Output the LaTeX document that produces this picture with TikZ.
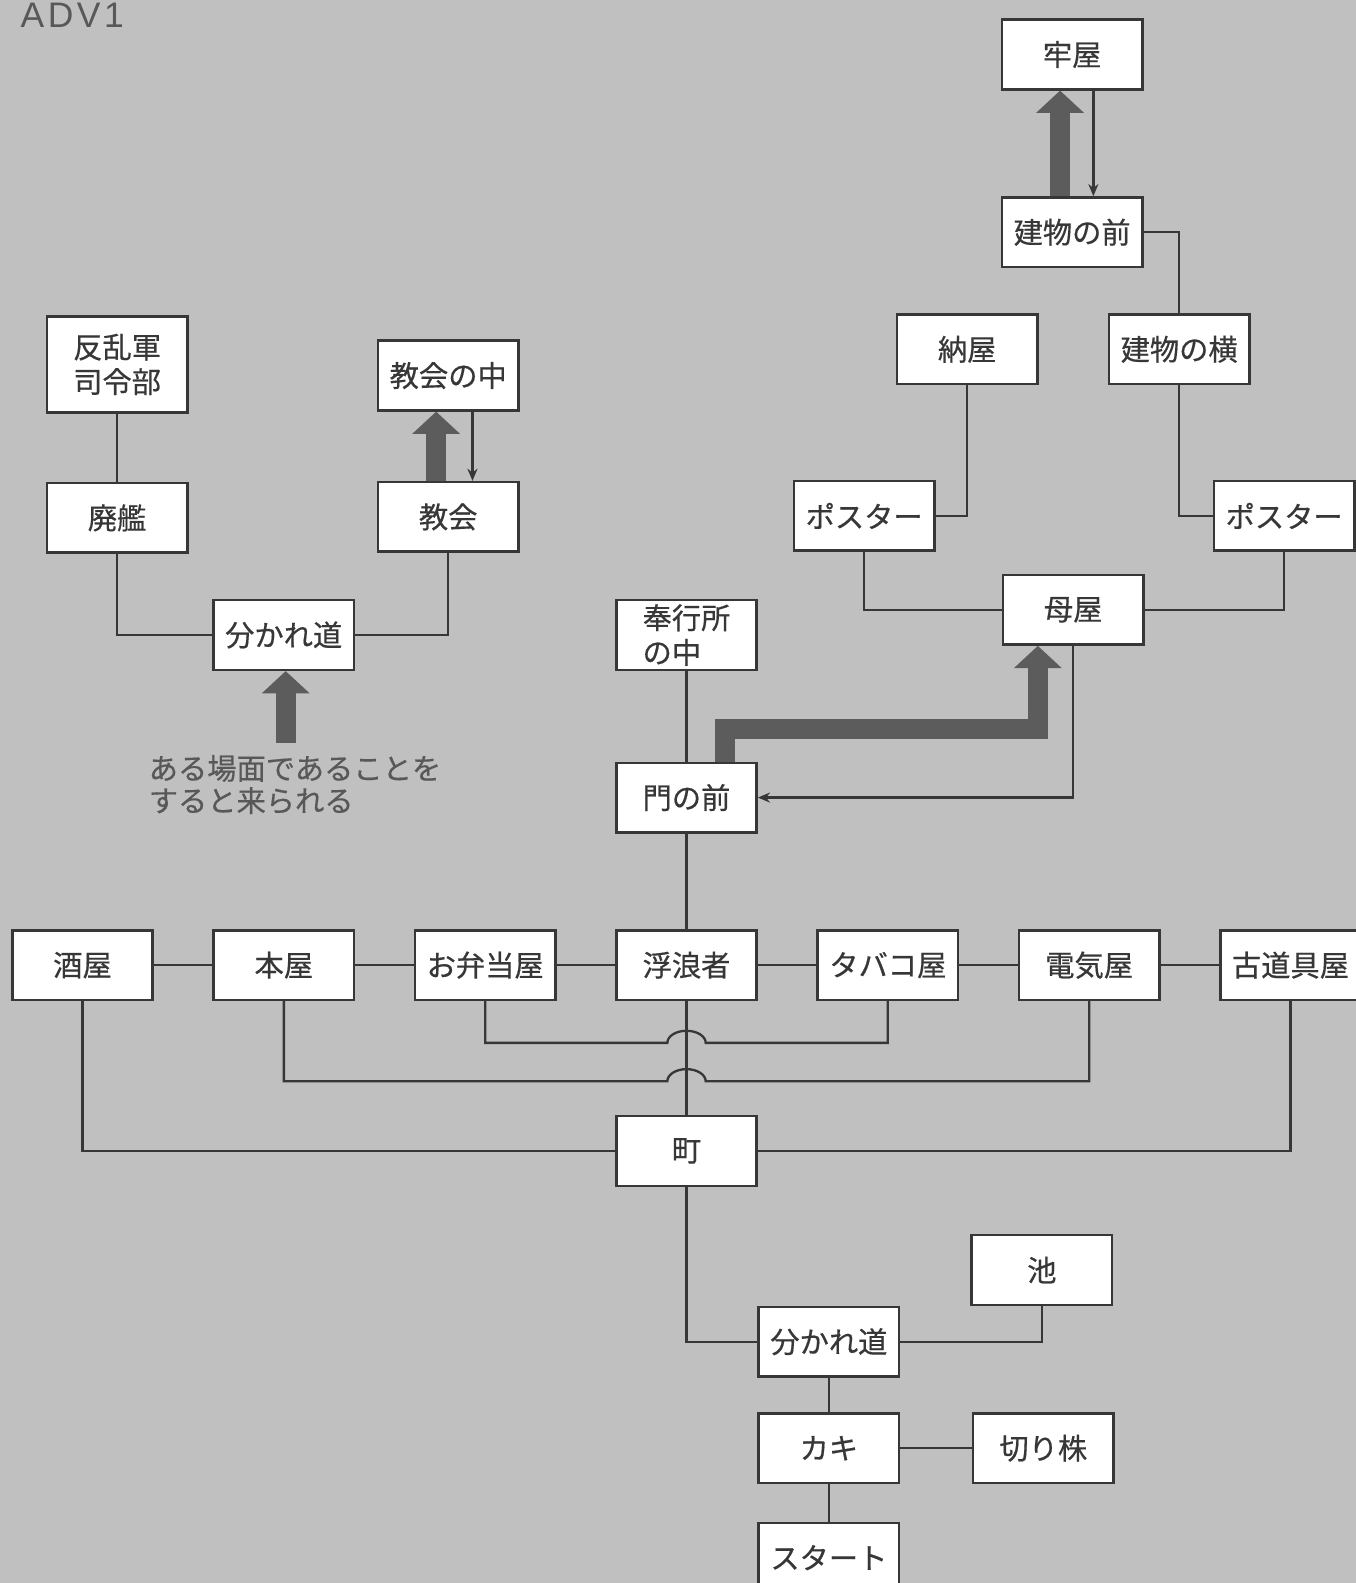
\documentclass[tikz,border=0pt]{standalone}
\usepackage{fontspec}
\usepackage{tikz}
\usetikzlibrary{arrows.meta,positioning,calc}
\newfontfamily\jpfont{Noto Sans CJK JP}[FakeBold=0.5]
\newfontfamily\latfont{Liberation Sans}[LetterSpace=10]
\definecolor{paper}{RGB}{192,192,192}
\definecolor{ink}{RGB}{55,55,55}
\definecolor{shade}{RGB}{92,92,92}
\definecolor{hint}{RGB}{88,88,88}

\begin{document}
\begin{tikzpicture}[
        x=0.02cm, y=0.02cm,
        node distance=1.16cm,
        room/.style={draw=ink,fill=white,line width=1.4pt,minimum width=2.78cm,minimum height=1.38cm,inner sep=0pt,align=center,text=ink,font=\jpfont\fontsize{16.5}{19.5}\selectfont},
        link/.style={draw=ink,line width=1.3pt},
        back/.style={link,-{Stealth[length=0.24cm,width=0.2cm]}},
        bigarrow/.style={draw=shade,line width=0.4cm,-{Triangle[width=0.92cm,length=0.44cm]}}
    ]
        % Paper
        \fill[paper] (0,0) rectangle (1343,-1568);
        \useasboundingbox (0,0) rectangle (1343,-1568);
        \node[anchor=base west,inner sep=0pt,text=hint,font=\latfont\fontsize{20}{20}\selectfont] (title) at (20,-27) {ADV1};
        
        % Rebel side
        \node[room,minimum height=1.9cm] (hanran) at (116,-361) {反乱軍\\司令部};
        \node[room] (haikan) at (116,-513) {廃艦};
        \node[room] (kyokainaka) at (444,-372) {教会の中};
        \node[room] (kyokai) at (444,-512) {教会};
        \node[room] (wakare1) at (281,-629) {分かれ道};
        \node[anchor=base west,inner sep=0pt,align=left,text=hint,font=\jpfont\fontsize{16.5}{18.2}\selectfont] (note) at (147,-804) {ある場面であることを\\すると来られる};
        \coordinate (cue) at (283,-736);
        
        % Mansion
        \node[room] (ro) at (1062,-54) {牢屋};
        \node[room] (tatemae) at (1062,-230) {建物の前};
        \node[room] (naya) at (958,-346) {納屋};
        \node[room] (tateyoko) at (1168,-346) {建物の横};
        \node[room] (posL) at (856,-511) {ポスター};
        \node[room] (posR) at (1272,-511) {ポスター};
        \node[room] (omoya) at (1063,-604) {母屋};
        \node[room,align=left] (bugyo) at (680,-629) {奉行所\\の中};
        \node[room] (mon) at (680,-790) {門の前};
        \coordinate (gateup) at (718,-722);
        \coordinate (hallup) at (1028,-722);
        
        % Street
        \node[room] (furo) at (680,-956) {浮浪者};
        \node[room,left=of furo] (bento) {お弁当屋};
        \node[room,left=of bento] (hon) {本屋};
        \node[room,left=of hon] (saka) {酒屋};
        \node[room,right=of furo] (tabako) {タバコ屋};
        \node[room,right=of tabako] (denki) {電気屋};
        \node[room,right=of denki] (furudogu) {古道具屋};
        \node[room] (machi) at (680,-1140) {町};
        \coordinate (hopA) at (680,-1033);
        \coordinate (hopB) at (680,-1071);
        
        % Start
        \node[room] (wakare2) at (821,-1329) {分かれ道};
        \node[room] (ike) at (1032,-1258) {池};
        \node[room,below=0.68cm of wakare2] (kaki) {カキ};
        \node[room,right=1.42cm of kaki] (kiri) {切り株};
        \node[room,below=0.74cm of kaki] (start) {スタート};
        
        % Links
        \draw[link] (hanran) -- (haikan);
        \draw[link] (haikan.south) |- (wakare1.west);
        \draw[link] (kyokai.south) |- (wakare1.east);
        \draw[bigarrow] ($(kyokai.north)+(-12,0)$) -- ($(kyokainaka.south)+(-12,0)$);
        \draw[back] ($(kyokainaka.south)+(24,0)$) -- ($(kyokai.north)+(24,0)$);
        \draw[bigarrow] (cue) -- (wakare1.south -| cue);
        
        \draw[bigarrow] ($(tatemae.north)+(-12,0)$) -- ($(ro.south)+(-12,0)$);
        \draw[back] ($(ro.south)+(21,0)$) -- ($(tatemae.north)+(21,0)$);
        \draw[link] (tatemae.east) -| (tateyoko.north);
        \draw[link] (naya.south) |- (posL.east);
        \draw[link] (tateyoko.south) |- (posR.west);
        \draw[link] (posL.south) |- (omoya.west);
        \draw[link] (posR.south) |- (omoya.east);
        \draw[link] (bugyo) -- (mon);
        \draw[bigarrow] (mon.north -| gateup) -- (gateup) -- (hallup) -- (omoya.south -| hallup);
        \draw[back] (omoya.south) |- (mon.east);
        \draw[link] (mon) -- (furo);
        
        \foreach \a/\b in {saka/hon,hon/bento,bento/furo,furo/tabako,tabako/denki,denki/furudogu}
            \draw[link] (\a) -- (\b);
        \draw[link] (bento.south) |- ($(hopA)+(-19,0)$) arc[start angle=180,end angle=0,x radius=19,y radius=12] -| (tabako.south);
        \draw[link] (hon.south) |- ($(hopB)+(-19,0)$) arc[start angle=180,end angle=0,x radius=19,y radius=12] -| (denki.south);
        \draw[link] (furo) -- (machi);
        \draw[link] (saka.south) |- (machi.west);
        \draw[link] (furudogu.south) |- (machi.east);
        
        \draw[link] (machi.south) |- (wakare2.west);
        \draw[link] (ike.south) |- (wakare2.east);
        \draw[link] (wakare2) -- (kaki);
        \draw[link] (kaki) -- (kiri);
        \draw[link] (kaki) -- (start);
    \end{tikzpicture}
\end{document}
